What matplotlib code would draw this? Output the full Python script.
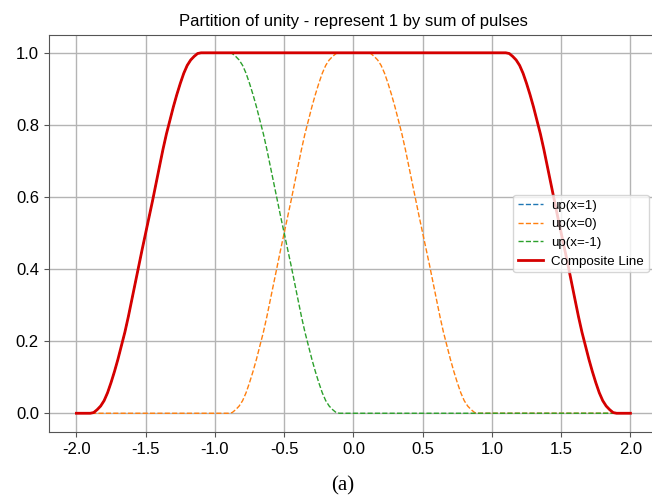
import matplotlib
matplotlib.use("Agg")
import matplotlib.pyplot as plt
import numpy as np

plt.rcParams['font.family'] = ['Liberation Sans', 'DejaVu Sans']
plt.rcParams['axes.unicode_minus'] = False

# one pulse edge: value at offsets -0.400 .. +0.400 (step 0.025)
# from the edge centre; the falling edge is the same read right-to-left
ramp_up = [0.000, 0.002, 0.010, 0.020, 0.035, 0.057, 0.085, 0.116, 0.150,
           0.187, 0.225, 0.268, 0.315, 0.362, 0.410, 0.455, 0.500,
           0.545, 0.590, 0.638, 0.685, 0.732, 0.775, 0.813, 0.850,
           0.884, 0.915, 0.943, 0.965, 0.980, 0.990, 0.998, 1.000]
ramp_down = ramp_up[::-1]

# the x grid, step 0.025 from -2 to 2 (161 samples)
x_vals = np.round(np.arange(-2.0, 2.0 + 1e-9, 0.025), 3)

# segments in samples: 4 = 0.1 wide, 32 = 0.8 wide, 8 = 0.2 wide
zeros = lambda n: [0.0] * n
ones = lambda n: [1.0] * n

# up(x=0): rise centred on -0.5, fall centred on 0.5
up_x0 = zeros(44) + ramp_up + ones(7) + ramp_down + zeros(44)
# up(x=-1): rise centred on -1.5, fall centred on -0.5
up_xm1 = zeros(4) + ramp_up + ones(7) + ramp_down + zeros(84)
# composite: rise centred on -1.5, flat, fall centred on 1.5
composite = zeros(4) + ramp_up + ones(87) + ramp_down + zeros(4)
# up(x=1) does not show in the reference: it sits under the composite line
up_x1 = list(composite)

fig = plt.figure(figsize=(6.52, 5.01), dpi=100)
ax = fig.add_axes([0.0747, 0.137, 0.9347, 0.7936])

ax.plot(x_vals, up_x1, '--', color='#1f77b4', lw=1.0, label='up(x=1)')
ax.plot(x_vals, up_x0, '--', color='#ff7f0e', lw=1.0, label='up(x=0)')
ax.plot(x_vals, up_xm1, '--', color='#2ca02c', lw=1.0, label='up(x=-1)')
ax.plot(x_vals, composite, '-', color='#d50000', lw=2.0, label='Composite Line')

ax.set_xlim(-2.2, 2.2)
ax.set_ylim(-0.053, 1.05)
ax.set_xticks([-2.0, -1.5, -1.0, -0.5, 0.0, 0.5, 1.0, 1.5, 2.0])
ax.set_yticks([0.0, 0.2, 0.4, 0.6, 0.8, 1.0])
ax.grid(True, color='#b4b4b4', lw=1.0)
ax.set_axisbelow(True)
for s in ax.spines.values():
    s.set_color('#555555')
ax.tick_params(colors='#555555', labelcolor='black', labelsize=12)

ax.set_title('Partition of unity - represent 1 by sum of pulses', fontsize=12)
ax.legend(loc='center right', fontsize=9.6, borderaxespad=0.7, borderpad=0.35,
          labelspacing=0.48, handlelength=1.9, handletextpad=0.6)

fig.text(343 / 652, 1 - 486 / 501, '(a)', ha='center', va='center',
         family='Liberation Serif', fontsize=15)

fig.savefig('out.png', dpi=100)
